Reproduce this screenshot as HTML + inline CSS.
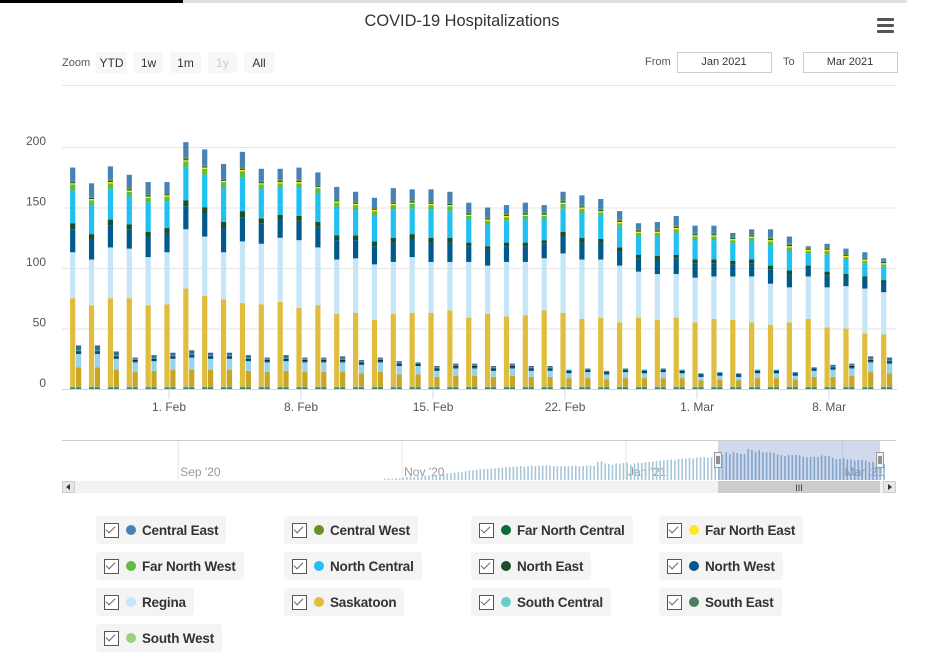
<!DOCTYPE html>
<html><head><meta charset="utf-8">
<style>
body{margin:0;width:951px;height:671px;background:#fff;font-family:"Liberation Sans",sans-serif;overflow:hidden;position:relative}
.lg{position:absolute;height:28px;background:#f4f4f4;border-radius:4px;display:flex;align-items:center;font-size:13.5px;font-weight:bold;color:#333;padding-right:8px;letter-spacing:-0.2px}
.cb{width:13px;height:13px;border:1.5px solid #555;margin-left:8px;margin-right:7px;position:relative;background:#fff}
.cb:after{content:"";position:absolute;left:3px;top:0px;width:4px;height:8px;border:solid #666;border-width:0 1.5px 1.5px 0;transform:rotate(45deg)}
.dot{width:10px;height:10px;border-radius:50%;margin-right:6px}
</style></head><body>
<svg id="c" width="951" height="671" style="position:absolute;left:0;top:0" font-family="Liberation Sans, sans-serif"></svg>
<script>
const days=["Jan 27","Jan 28","Jan 29","Jan 30","Jan 31","Feb 1","Feb 2","Feb 3","Feb 4","Feb 5","Feb 6","Feb 7","Feb 8","Feb 9","Feb 10","Feb 11","Feb 12","Feb 13","Feb 14","Feb 15","Feb 16","Feb 17","Feb 18","Feb 19","Feb 20","Feb 21","Feb 22","Feb 23","Feb 24","Feb 25","Feb 26","Feb 27","Feb 28","Mar 1","Mar 2","Mar 3","Mar 4","Mar 5","Mar 6","Mar 7","Mar 8","Mar 9","Mar 10","Mar 11"];
const xTickLabels=["1. Feb","8. Feb","15. Feb","22. Feb","1. Mar","8. Mar"];
const xTickIdx=[5,12,19,26,33,40];
const yTicks=[0,50,100,150,200];
const southEast=[1.5,1.5,1.5,1.5,1.5,1.5,1.5,1.5,1.5,1.5,1.5,1.5,1.5,1.5,1.5,1.5,1.5,1.5,1.5,1.5,1.5,1.5,1.5,1.5,1.5,1.5,1.5,1.5,1.5,1.5,1.5,1.5,1.5,1.5,1.5,1.5,1.5,1.5,1.5,1.5,1.5,1.5,1.5,1.5];
const southCentral=[0.5,0.5,0.5,0.5,0.5,0.5,0.5,0.5,0.5,0.5,0.5,0.5,0.5,0.5,0.5,0.5,0.5,0.5,0.5,0.5,0.5,0.5,0.5,0.5,0.5,0.5,0.5,0.5,0.5,0.5,0.5,0.5,0.5,0.5,0.5,0.5,0.5,0.5,0.5,0.5,0.5,0.5,0.5,0.5];
const saskatoon=[73,67,73,73,67,68,81,75,72,69,68,70,65,67,60,61,55,60,61,61,63,57,60,58,59,63,61,56,57,53,57,55,57,53,56,55,53,51,53,56,49,48,44,43];
const regina=[38,38,42,41,40,43,49,49,39,51,50,53,56,48,45,45,46,43,46,42,40,46,40,45,44,43,49,49,48,47,38,38,36,37,35,36,38,34,29,35,33,35,37,35];
const northWest=[19,17,18,16,17,16,19,19,20,20,17,15,16,17,16,15,15,16,15,16,16,13,13,13,13,12,14,14,14,12,11,12,13,12,11,10,11,12,11,7,10,8,8,8];
const northEast=[5,4,5,4,4,4,5,5,5,5,4,4,4,4,4,4,4,4,4,4,4,3,3,3,3,3,4,4,3,3,3,3,3,3,3,3,3,3,3,2,3,2,2,2];
const northCentral=[27,24,25,23,24,22,27,27,28,28,24,22,23,24,23,21,21,23,21,23,22,19,18,18,19,17,19,20,19,17,15,16,18,16,16,14,15,17,16,10,14,12,11,11];
const farNorthWest=[5,4,5,4,4,4,5,5,5,5,4,4,4,4,4,4,4,4,4,4,4,3,3,3,3,3,4,4,3,3,3,3,3,3,3,3,3,3,3,2,3,2,2,2];
const farNorthEast=[1,1,1,1,1,1,1,1,1,1,1,1,1,1,1,1,1,1,1,1,1,1,1,1,1,1,1,1,1,1,1,1,1,1,1,1,1,1,1,1,1,1,1,1];
const farNorthCentral=[1,1,1,1,1,1,1,1,1,1,1,1,1,1,1,1,1,1,1,1,1,1,1,1,1,1,1,1,1,1,1,1,1,1,1,1,1,1,1,1,1,1,1,1];
const centralWest=[1,1,1,1,1,1,1,1,1,1,1,1,1,1,1,1,1,1,1,1,1,1,1,1,1,1,1,1,1,1,1,1,1,1,1,1,1,1,1,1,1,1,1,1];
const centralEast=[11,11,11,11,10,9,13,13,12,13,10,9,10,10,10,8,8,11,9,10,9,8,8,7,8,6,7,8,8,7,5,6,8,6,6,3,4,7,6,1,3,4,4,2];
const icuSouthEast=[1.5,1.5,1.5,1.5,1.5,1.5,1.5,1.5,1.5,1.5,1.5,1.5,1.5,1.5,1.5,1.5,1.5,1.5,1.5,1.5,1.5,1.5,1.5,1.5,1.5,1.5,1.5,1.5,1.5,1.5,1.5,1.5,1.5,1.5,1.5,1.5,1.5,1.5,1.5,1.5,1.5,1.5,1.5,1.5];
const icuSouthCentral=[0.5,0.5,0.5,0.5,0.5,0.5,0.5,0.5,0.5,0.5,0.5,0.5,0.5,0.5,0.5,0.5,0.5,0.5,0.5,0.5,0.5,0.5,0.5,0.5,0.5,0.5,0.5,0.5,0.5,0.5,0.5,0.5,0.5,0.5,0.5,0.5,0.5,0.5,0.5,0.5,0.5,0.5,0.5,0.5];
const icuSaskatoon=[16,16,14,12,13,14,14,14,14,13,12,13,12,12,12,11,12,10,10,8,9,9,8,9,8,8,7,7,6,7,7,7,7,5,6,5,7,7,6,8,8,9,12,11];
const icuRegina=[11,11,9,8,8,9,10,9,9,8,8,8,8,8,8,7,8,7,7,5,6,6,5,6,5,5,4,5,4,5,4,5,4,3,3,3,4,4,3,5,6,6,8,8];
const icuNorthWest=[1,1,1,1,1,1,1,1,1,1,1,1,1,1,1,1,1,1,1,1,1,1,1,1,1,1,1,1,1,1,1,1,1,1,1,1,1,1,1,1,1,1,1,1];
const icuNorthEast=[1,1,1,1,1,1,1,1,1,1,1,1,1,1,1,1,1,1,1,1,1,1,1,1,1,1,1,1,1,1,1,1,1,1,1,1,1,1,1,1,1,1,1,1];
const icuNorthCentral=[1,1,1,1,1,1,1,1,1,1,1,1,1,1,1,1,1,1,1,1,1,1,1,1,1,1,1,1,1,1,1,1,1,1,1,1,1,1,1,1,1,1,1,1];
const icuCentralEast=[4,4,3,1,2,2,3,2,2,2,1,2,1,1,2,1,1,1,0,1,1,1,1,1,1,1,0,0,0,0,0,0,0,0,0,0,0,0,0,0,1,1,2,2];
const navValues=[8,10,9,12,11,14,20,22,18,25,24,28,30,32,35,38,40,42,45,48,50,55,58,62,64,66,70,72,74,75,78,80,82,84,86,88,90,92,88,90,95,92,94,96,98,95,92,90,90,92,90,93,94,90,92,95,96,92,120,122,110,105,100,110,108,112,115,100,108,115,112,118,120,122,125,128,130,132,135,130,138,140,142,145,140,148,150,152,148,150,155,158,165];
const navLabels=["Sep '20","Nov '20","Jan '21","Mar '21"];
const navLabelDay=[-122,-61,0,59];

const svg=document.getElementById('c');const NS='http://www.w3.org/2000/svg';
function mk(t,a,txt){const e=document.createElementNS(NS,t);for(const k in a)e.setAttribute(k,a[k]);if(txt!=null)e.textContent=txt;svg.appendChild(e);return e;}
const X0=74.7,DX=18.86,Y0=389,KY=1.21;
const xs=i=>X0+i*DX, ys=v=>Y0-v*KY;
let e;
e=mk('rect',{x:0,y:0,width:183,height:3,fill:'#000'});
e=mk('rect',{x:183,y:0,width:724,height:3,fill:'#dde0e4'});
e=mk('text',{x:462,y:26,'text-anchor':'middle','font-size':17,fill:'#333','textLength':195,'lengthAdjust':'spacingAndGlyphs'},'COVID-19 Hospitalizations');
for(let k=0;k<3;k++){e=mk('rect',{x:877,y:18+k*6,width:17,height:3,rx:1,fill:'#555'});}
e=mk('text',{x:62,y:66,'font-size':11,fill:'#555'},'Zoom');
const zb=[["YTD",96,31,'#333'],["1w",134,29,'#333'],["1m",170,31,'#333'],["1y",208,29,'#ccc'],["All",244,30,'#333']];
zb.forEach(b=>{e=mk('rect',{x:b[1],y:52,width:b[2],height:21,fill:'#f7f7f7',rx:2});
e=mk('text',{x:b[1]+b[2]/2,y:67,'text-anchor':'middle','font-size':12,fill:b[3]},b[0]);});
e=mk('text',{x:645,y:65,'font-size':11,fill:'#555'},'From');
e=mk('rect',{x:677.5,y:52.5,width:94,height:20,fill:'#fff',stroke:'#ccc'});
e=mk('text',{x:724,y:65,'text-anchor':'middle','font-size':11,fill:'#333'},'Jan 2021');
e=mk('text',{x:783,y:65,'font-size':11,fill:'#555'},'To');
e=mk('rect',{x:803.5,y:52.5,width:94,height:20,fill:'#fff',stroke:'#ccc'});
e=mk('text',{x:850,y:65,'text-anchor':'middle','font-size':11,fill:'#333'},'Mar 2021');
e=mk('line',{x1:62,x2:897,y1:85.5,y2:85.5,stroke:'#e6e6e6'});
yTicks.forEach(v=>{if(v>0){e=mk('line',{x1:62,x2:897,y1:ys(v)+0.5,y2:ys(v)+0.5,stroke:'#e6e6e6'});}
e=mk('text',{x:46,y:ys(v)-2,'text-anchor':'end','font-size':12,fill:'#555'},String(v));});
const hosp=[[southEast,'#4e7d5f'],[southCentral,'#66cccc'],[saskatoon,'#e0bd3c'],[regina,'#c4e6f7'],[northWest,'#005a8c'],[northEast,'#1e4d2b'],[northCentral,'#1fc0f2'],[farNorthWest,'#5dbb46'],[farNorthEast,'#fde725'],[farNorthCentral,'#0b6b3a'],[centralWest,'#6b8e23'],[centralEast,'#4682b4']];
const icu=[[icuSouthEast,'#4a7a5c'],[icuSouthCentral,'#5bbbbb'],[icuSaskatoon,'#c9a525'],[icuRegina,'#97d3ef'],[icuNorthWest,'#004466'],[icuNorthEast,'#0e2a3a'],[icuNorthCentral,'#1a9cc8'],[icuCentralEast,'#3d6a8e']];
days.forEach((d,i)=>{let c=0;hosp.forEach(s=>{const v=s[0][i];if(v>0){e=mk('rect',{x:xs(i)-4.6,y:ys(c+v),width:5.2,height:v*KY,fill:s[1]});}c+=v;});
c=0;icu.forEach(s=>{const v=s[0][i];if(v>0){e=mk('rect',{x:xs(i)+1.3,y:ys(c+v),width:5.2,height:v*KY,fill:s[1]});}c+=v;});});
e=mk('line',{x1:62,x2:897,y1:389.5,y2:389.5,stroke:'#ccd6eb'});
xTickIdx.forEach((ix,k)=>{e=mk('line',{x1:xs(ix),x2:xs(ix),y1:390,y2:399,stroke:'#ccd6eb'});
e=mk('text',{x:xs(ix),y:411,'text-anchor':'middle','font-size':12,fill:'#555'},xTickLabels[k]);});
const NX0=630,NDX=3.67,NB=480,NK=31/204;
const nx=d=>NX0+d*NDX;
e=mk('line',{x1:62,x2:896,y1:440.5,y2:440.5,stroke:'#ccc'});
navLabelDay.forEach((d,k)=>{e=mk('line',{x1:nx(d)-4,x2:nx(d)-4,y1:441,y2:480,stroke:'#e6e6e6'});
e=mk('text',{x:nx(d)-2,y:476,'font-size':12,fill:'#999'},navLabels[k]);});
navValues.forEach((v,k)=>{const d=k-67;e=mk('rect',{x:nx(d),y:NB-v*NK,width:1.6,height:v*NK,fill:'#a8c6da'});});
days.forEach((d,i)=>{let t=0;hosp.forEach(s=>t+=s[0][i]);e=mk('rect',{x:nx(26+i),y:NB-t*NK,width:1.6,height:t*NK,fill:'#8fb0d0'});});
e=mk('rect',{x:718,y:441,width:162,height:39,fill:'rgba(102,133,194,0.3)'});
[718,880].forEach(hx=>{e=mk('rect',{x:hx-3.5,y:452.5,width:7,height:15,fill:'#f2f2f2',stroke:'#999'});
mk('line',{x1:hx-1,x2:hx-1,y1:456,y2:464,stroke:'#333'});mk('line',{x1:hx+1,x2:hx+1,y1:456,y2:464,stroke:'#333'});});
e=mk('rect',{x:62,y:481,width:834,height:12,fill:'#f2f2f2'});
e=mk('rect',{x:718,y:481,width:162,height:12,fill:'#cccccc'});
e=mk('text',{x:799,y:491,'text-anchor':'middle','font-size':9,fill:'#333'},'III');
e=mk('rect',{x:62.5,y:481.5,width:12,height:11,fill:'#e6e6e6',stroke:'#ccc'});
mk('path',{d:'M70 484 L66 487 L70 490 Z',fill:'#333'});
e=mk('rect',{x:883.5,y:481.5,width:12,height:11,fill:'#e6e6e6',stroke:'#ccc'});
mk('path',{d:'M888 484 L892 487 L888 490 Z',fill:'#333'});
</script>
<div>
<div class="lg" style="left:96px;top:516px"><div class="cb"></div><div class="dot" style="background:#4682b4"></div>Central East</div>
<div class="lg" style="left:284px;top:516px"><div class="cb"></div><div class="dot" style="background:#6b8e23"></div>Central West</div>
<div class="lg" style="left:471px;top:516px"><div class="cb"></div><div class="dot" style="background:#0b6b3a"></div>Far North Central</div>
<div class="lg" style="left:659px;top:516px"><div class="cb"></div><div class="dot" style="background:#fde725"></div>Far North East</div>
<div class="lg" style="left:96px;top:552px"><div class="cb"></div><div class="dot" style="background:#5dbb46"></div>Far North West</div>
<div class="lg" style="left:284px;top:552px"><div class="cb"></div><div class="dot" style="background:#1fc0f2"></div>North Central</div>
<div class="lg" style="left:471px;top:552px"><div class="cb"></div><div class="dot" style="background:#1e4d2b"></div>North East</div>
<div class="lg" style="left:659px;top:552px"><div class="cb"></div><div class="dot" style="background:#005a8c"></div>North West</div>
<div class="lg" style="left:96px;top:588px"><div class="cb"></div><div class="dot" style="background:#c4e6f7"></div>Regina</div>
<div class="lg" style="left:284px;top:588px"><div class="cb"></div><div class="dot" style="background:#e0bd3c"></div>Saskatoon</div>
<div class="lg" style="left:471px;top:588px"><div class="cb"></div><div class="dot" style="background:#66cccc"></div>South Central</div>
<div class="lg" style="left:659px;top:588px"><div class="cb"></div><div class="dot" style="background:#4e7d5f"></div>South East</div>
<div class="lg" style="left:96px;top:624px"><div class="cb"></div><div class="dot" style="background:#9cd17a"></div>South West</div>
</div>
</body></html>
